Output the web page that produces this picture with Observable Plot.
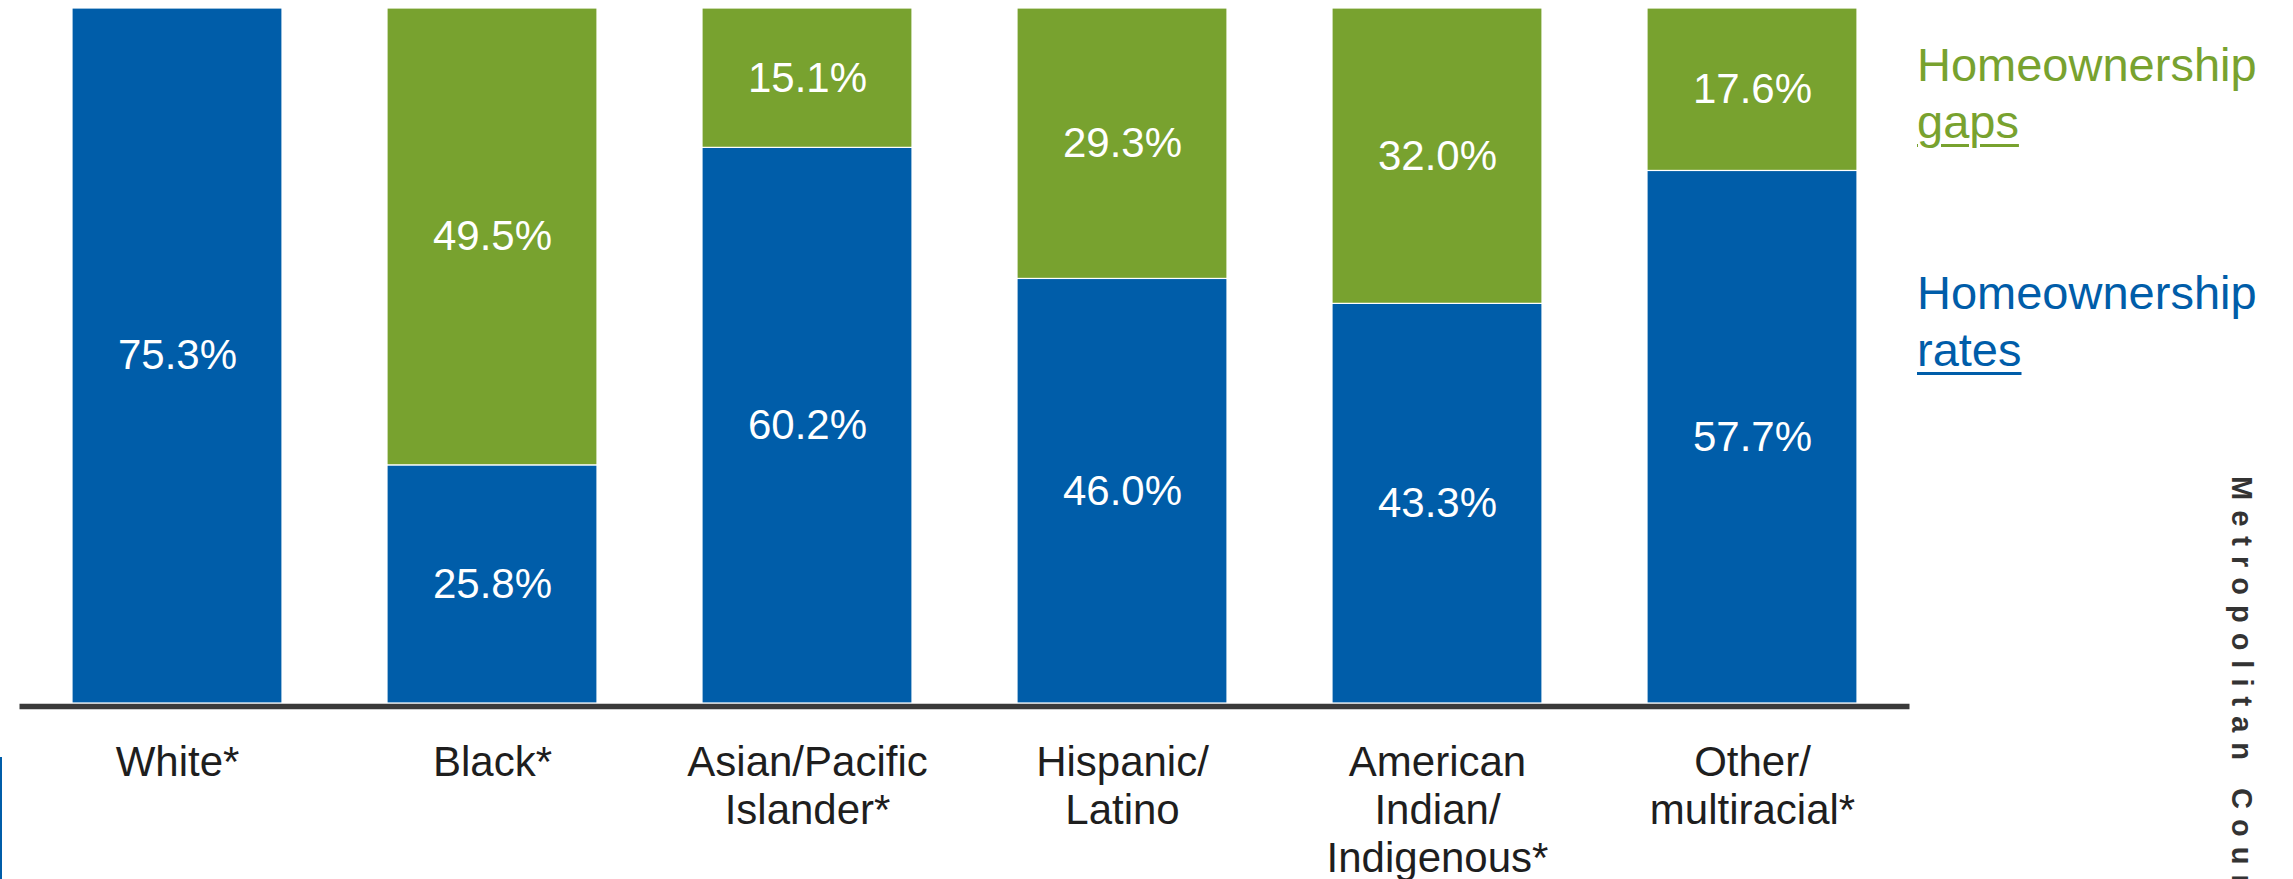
<!DOCTYPE html>
<html><head><meta charset="utf-8">
<script src="https://cdn.jsdelivr.net/npm/d3@7"></script>
<script src="https://cdn.jsdelivr.net/npm/@observablehq/plot@0.6"></script>
<style>
html,body{margin:0;padding:0;background:#fff;width:2293px;height:879px;overflow:hidden;}
#wrap{position:relative;width:2293px;height:879px;}
#wrap svg{position:absolute;left:0;top:0;}
.leg{position:absolute;left:1917px;font-family:"Liberation Sans",Arial,sans-serif;font-size:47px;line-height:57px;white-space:nowrap;}
.leg u{text-decoration-thickness:3px;text-underline-offset:6px;}
#side{position:absolute;left:2225px;top:476px;writing-mode:vertical-rl;font-family:"Liberation Sans",Arial,sans-serif;font-weight:bold;font-size:29px;letter-spacing:10px;color:#333;white-space:nowrap;}
#edge{position:absolute;left:0;top:757px;width:2px;height:122px;background:#005da9;}
</style></head><body><div id="wrap"></div>
<script>
const categories = ["White*","Black*","Asian/Pacific Islander*","Hispanic/Latino","American Indian/Indigenous*","Other/multiracial*"];
const tickLabels = ["White*","Black*","Asian/Pacific\nIslander*","Hispanic/\nLatino","American\nIndian/\nIndigenous*","Other/\nmultiracial*"];
const rates = [75.3, 25.8, 60.2, 46.0, 43.3, 57.7];
const gaps = [0, 49.5, 15.1, 29.3, 32.0, 17.6];
const seriesNames = ["Homeownership rates", "Homeownership gaps"];
const seriesColors = ["#005da9", "#78a22f"];
const sideText = "Metropolitan Council";

const rows = [];
categories.forEach((c, i) => {
  rows.push({cat: c, series: seriesNames[0], y1: 0, y2: rates[i], v: rates[i]});
  if (gaps[i] > 0) rows.push({cat: c, series: seriesNames[1], y1: rates[i], y2: rates[i] + gaps[i], v: gaps[i]});
});
rows.forEach(d => d.mid = (d.y1 + d.y2) / 2);
const labelOf = new Map(categories.map((c, i) => [c, tickLabels[i]]));

const chart = Plot.plot({
  width: 2293,
  height: 879,
  marginTop: 8,
  marginBottom: 176,
  marginLeft: 19.5,
  marginRight: 383.5,
  style: {fontFamily: "'Liberation Sans', Arial, sans-serif", background: "white"},
  x: {domain: categories, paddingInner: 1/3, paddingOuter: 1/6, axis: null, label: null},
  y: {domain: [0, 75.3], axis: null},
  color: {domain: seriesNames, range: seriesColors},
  marks: [
    Plot.rectY(rows, {x: "cat", y1: "y1", y2: "y2", fill: "series", stroke: "white", strokeWidth: 1.2}),
    Plot.text(rows, {x: "cat", y: "mid", text: d => d.v.toFixed(1) + "%", fill: "white", fontSize: 42}),
    Plot.ruleY([0], {stroke: "#3a3a3a", strokeWidth: 5.5, dy: 3}),
    Plot.axisX({tickSize: 0, tickPadding: 38, fontSize: 42, lineHeight: 48/42, label: null, tickFormat: d => labelOf.get(d), fill: "#1e1e1e"})
  ]
});
const wrap = document.getElementById("wrap");
wrap.appendChild(chart);

const g = document.createElement("div");
g.className = "leg"; g.style.top = "36px"; g.style.color = seriesColors[1];
g.innerHTML = "Homeownership<br><u>gaps</u>";
wrap.appendChild(g);
const b = document.createElement("div");
b.className = "leg"; b.style.top = "264px"; b.style.color = seriesColors[0];
b.innerHTML = "Homeownership<br><u>rates</u>";
wrap.appendChild(b);
const s = document.createElement("div");
s.id = "side"; s.textContent = sideText;
wrap.appendChild(s);
const e = document.createElement("div");
e.id = "edge";
wrap.appendChild(e);
</script></body></html>
